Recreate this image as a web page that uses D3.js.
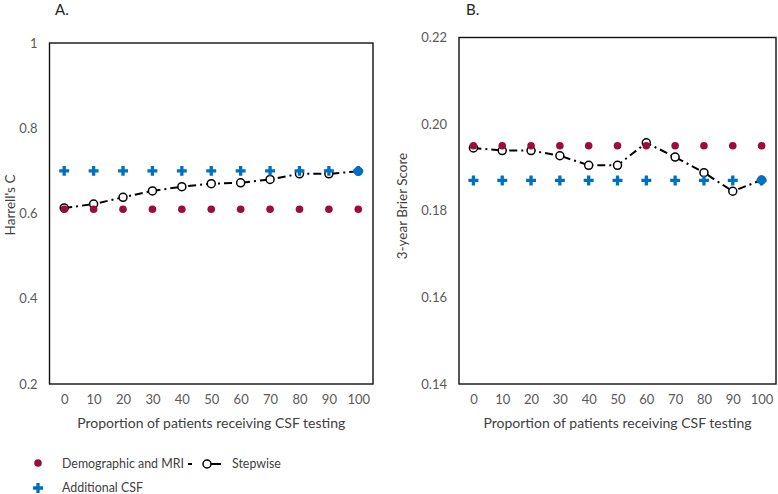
<!DOCTYPE html>
<html><head><meta charset="utf-8">
<script src="https://cdn.jsdelivr.net/npm/d3@7"></script>
<style>body{margin:0;background:#fff;} text{font-family:Lato,"Open Sans",sans-serif;}</style>
</head><body>
<svg id="chart" width="778" height="494"></svg>
<script>
const categories = [0,10,20,30,40,50,60,70,80,90,100];
const demoA = [0.61,0.61,0.61,0.61,0.61,0.61,0.61,0.61,0.61,0.61,0.61];
const csfA = [0.70,0.70,0.70,0.70,0.70,0.70,0.70,0.70,0.70,0.70,0.70];
const stepA = [0.613,0.622,0.638,0.653,0.663,0.670,0.672,0.680,0.693,0.693,0.699];
const demoB = [0.195,0.195,0.195,0.195,0.195,0.195,0.195,0.195,0.195,0.195,0.195];
const csfB = [0.187,0.187,0.187,0.187,0.187,0.187,0.187,0.187,0.187,0.187,0.187];
const stepB = [0.1945,0.1939,0.1939,0.1927,0.1905,0.1905,0.1957,0.1924,0.1888,0.1845,0.1871];
const yTicksA = [0.2,0.4,0.6,0.8,1];
const yTicksB = [0.14,0.16,0.18,0.20,0.22];

const RED = "#9C0C3C", BLUE = "#0070C0";
const svg = d3.select("#chart");

function panel(opt){
  const g = svg.append("g");
  const x = d3.scalePoint().domain(categories).range([opt.left, opt.right]).padding(0.5);
  const y = d3.scaleLinear().domain(opt.domain).range([opt.bottom, opt.top]);
  g.append("rect").attr("x",opt.left).attr("y",opt.top)
    .attr("width",opt.right-opt.left).attr("height",opt.bottom-opt.top)
    .attr("fill","none").attr("stroke","#111").attr("stroke-width",1.4);
  const ya = g.append("g").attr("transform",`translate(${opt.left},0)`)
    .call(d3.axisLeft(y).tickValues(opt.yTicks).tickSize(0).tickPadding(12).tickFormat(opt.fmt));
  ya.select(".domain").remove();
  ya.selectAll("text").attr("fill","#595959").style("font-size","13px").style("font-family","Lato");
  const xa = g.append("g").attr("transform",`translate(0,${opt.bottom})`)
    .call(d3.axisBottom(x).tickSize(0).tickPadding(11));
  xa.select(".domain").remove();
  xa.selectAll("text").attr("fill","#595959").style("font-size","13px").style("font-family","Lato");
  g.append("text").attr("x",opt.titleX).attr("y",15).text(opt.title)
    .attr("fill","#222").style("font-size","15px");
  g.append("text").attr("transform",`translate(${opt.ylabX},${opt.ylabY}) rotate(-90)`)
    .attr("text-anchor","middle").attr("fill","#404040").style("font-size","13.5px").text(opt.ylab);
  g.append("text").attr("x",(opt.left+opt.right)/2).attr("y",428).attr("text-anchor","middle")
    .attr("fill","#404040").style("font-size","14px").text("Proportion of patients receiving CSF testing");
  const line = d3.line().x((d,i)=>x(categories[i])).y(d=>y(d));
  g.append("path").datum(opt.step).attr("d",line).attr("fill","none")
    .attr("stroke","#000").attr("stroke-width",2).attr("stroke-dasharray","8,4,2,4");
  g.selectAll(".so").data(opt.step).join("circle").attr("class","so")
    .attr("cx",(d,i)=>x(categories[i])).attr("cy",d=>y(d)).attr("r",4)
    .attr("fill",(d,i)=>i===categories.length-1?BLUE:"#fff")
    .attr("stroke",(d,i)=>i===categories.length-1?BLUE:"#000").attr("stroke-width",1.5);
  g.selectAll(".dm").data(opt.demo).join("circle").attr("class","dm")
    .attr("cx",(d,i)=>x(categories[i])).attr("cy",d=>y(d)).attr("r",3.8).attr("fill",RED);
  g.selectAll(".cs").data(opt.csf).join("path").attr("class","cs")
    .attr("transform",(d,i)=>`translate(${x(categories[i])},${y(d)})`)
    .attr("d",d3.symbol().type(d3.symbolCross).size(55)).attr("fill",BLUE);
}

panel({left:49.5,right:373,top:43,bottom:384,domain:[0.2,1],yTicks:yTicksA,
  fmt:d=>d===1?"1":d3.format(".1f")(d),step:stepA,demo:demoA,csf:csfA,
  title:"A.",titleX:55,ylab:"Harrell's C",ylabX:15,ylabY:205});
panel({left:459,right:776,top:37.5,bottom:384,domain:[0.14,0.22],yTicks:yTicksB,
  fmt:d3.format(".2f"),step:stepB,demo:demoB,csf:csfB,
  title:"B.",titleX:466,ylab:"3-year Brier Score",ylabX:407,ylabY:206});

const lg = svg.append("g").style("font-size","12.4px");
lg.append("circle").attr("cx",38).attr("cy",463).attr("r",3.8).attr("fill",RED);
lg.append("text").attr("x",62).attr("y",467.5).attr("fill","#404040").text("Demographic and MRI");
lg.append("line").attr("x1",188).attr("x2",192).attr("y1",464).attr("y2",464).attr("stroke","#000").attr("stroke-width",2);
lg.append("line").attr("x1",211).attr("x2",221).attr("y1",464).attr("y2",464).attr("stroke","#000").attr("stroke-width",2);
lg.append("circle").attr("cx",207).attr("cy",464).attr("r",4).attr("fill","#fff").attr("stroke","#000").attr("stroke-width",1.5);
lg.append("text").attr("x",232).attr("y",467.5).attr("fill","#404040").text("Stepwise");
lg.append("path").attr("transform","translate(38,488)").attr("d",d3.symbol().type(d3.symbolCross).size(55)).attr("fill",BLUE);
lg.append("text").attr("x",62).attr("y",491.5).attr("fill","#404040").text("Additional CSF");
</script>
</body></html>
